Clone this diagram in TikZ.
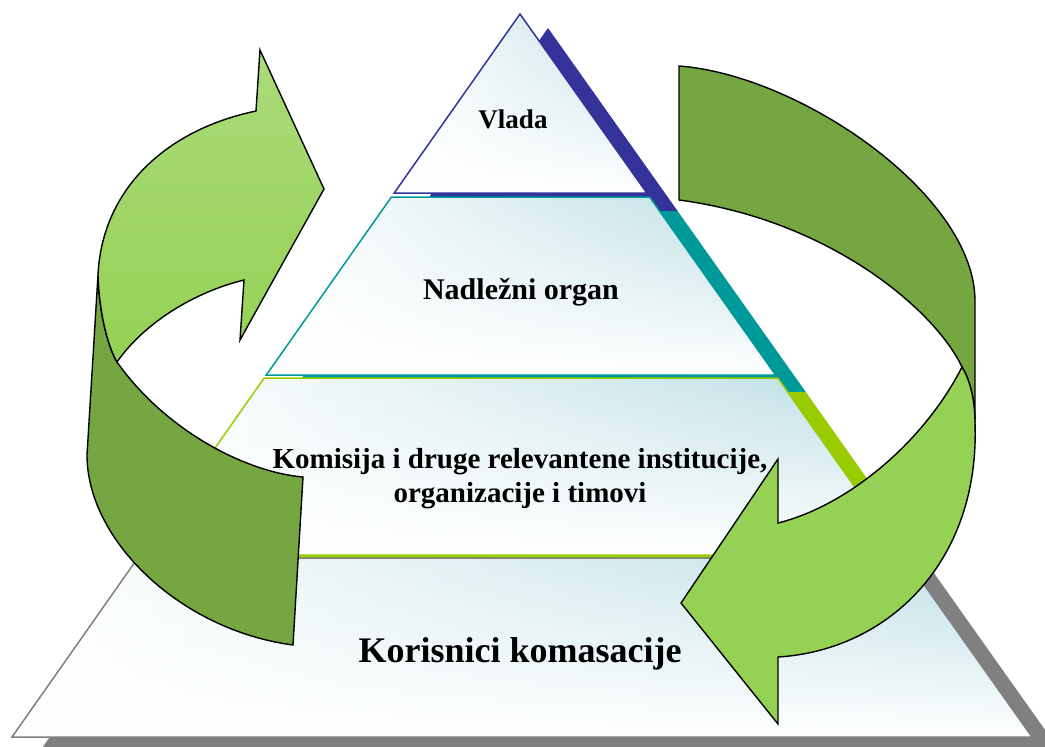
\documentclass[tikz,border=0pt]{standalone}
\usepackage{fontspec}
\setmainfont{Liberation Serif}
\usetikzlibrary{fadings}

\definecolor{pyrblue}{RGB}{186,222,228}
\definecolor{edgeone}{RGB}{51,51,153}
\definecolor{edgetwo}{RGB}{0,153,153}
\definecolor{edgethree}{RGB}{153,204,0}
\definecolor{edgefour}{RGB}{128,128,128}
\definecolor{gdark}{RGB}{117,166,66}
\definecolor{glight}{RGB}{148,209,84}
\definecolor{glighttop}{RGB}{170,219,122}

% white wash that grows towards the bottom of each level
\tikzfading[name=whitebottom, top color=transparent!100, middle color=transparent!75, bottom color=transparent!0]

\tikzset{
  levelshade/.style={left color=white, right color=pyrblue},
  levelwash/.style={white, path fading=whitebottom},
  leveledge/.style={draw=#1, line width=1.5pt},
  levelshadow/.style={fill=#1, shift={(28,14)}},
  arrowline/.style={draw=black, line width=1.4pt, line join=miter},
  leveltext/.style={font=\bfseries\fontsize{#1}{#1}\selectfont, inner sep=0pt, anchor=base},
}

\begin{document}
\begin{tikzpicture}[x=1pt,y=-1pt]
\useasboundingbox (0,0) rectangle (1045,747);
\clip (0,0) rectangle (1045,747);

% ---- level 1: Vlada
\fill[levelshadow=edgeone] (520,14) -- (649.6,197) -- (391.4,197) -- cycle;
\shade[levelshade] (520,14) -- (646.8,193) -- (394.2,193) -- cycle;
\fill[levelwash] (520,14) -- (646.8,193) -- (394.2,193) -- cycle;
\draw[leveledge=edgeone] (520,14) -- (646.8,193) -- (394.2,193) -- cycle;

% ---- level 2: Nadlezni organ
\fill[levelshadow=edgetwo] (391.4,197) -- (649.6,197) -- (777.8,378) -- (264.2,378) -- cycle;
\shade[levelshade] (391.4,197) -- (649.6,197) -- (775.6,375) -- (266.3,375) -- cycle;
\fill[levelwash] (391.4,197) -- (649.6,197) -- (775.6,375) -- (266.3,375) -- cycle;
\draw[leveledge=edgetwo] (391.4,197) -- (649.6,197) -- (775.6,375) -- (266.3,375) -- cycle;

% ---- level 3: Komisija
\fill[levelshadow=edgethree] (264.2,378) -- (777.8,378) -- (905.2,558) -- (137.8,558) -- cycle;
\shade[levelshade] (264.2,378) -- (777.8,378) -- (903.1,555) -- (139.9,555) -- cycle;
\fill[levelwash] (264.2,378) -- (777.8,378) -- (903.1,555) -- (139.9,555) -- cycle;
\draw[leveledge=edgethree] (264.2,378) -- (777.8,378) -- (903.1,555) -- (139.9,555) -- cycle;

% ---- level 4: Korisnici
\fill[levelshadow=edgefour] (137.8,558) -- (905.2,558) -- (1032,737) -- (12,737) -- cycle;
\shade[levelshade] (137.8,558) -- (905.2,558) -- (1032,737) -- (12,737) -- cycle;
\fill[levelwash] (137.8,558) -- (905.2,558) -- (1032,737) -- (12,737) -- cycle;
\draw[leveledge=edgefour] (137.8,558) -- (905.2,558) -- (1032,737) -- (12,737) -- cycle;

% ---- labels
\node[leveltext=27] (vlada) at (513,128) {Vlada};
\node[leveltext=30] (organ) at (521,299) {Nadležni organ};
\node[font=\bfseries\fontsize{29}{34}\selectfont, inner sep=0pt, align=center] (komisija) at (520,479)
  {Komisija i druge relevantene institucije,\\organizacije i timovi};
\node[leveltext=36] (korisnici) at (520,662) {Korisnici komasacije};

% ---- left circular arrow: back band
\draw[arrowline, fill=gdark] (98,275) -- (87,455)
  .. controls (87,540) and (180,630) .. (293,645) -- (303,477)
  .. controls (245,472) and (165,430) .. (117,362)
  .. controls (107,345) and (99,310) .. (98,275) -- cycle;
% ---- left circular arrow: front band with head
\draw[arrowline, top color=glighttop, bottom color=glight] (98,275)
  .. controls (102,190) and (165,130) .. (256,111) -- (260,50) -- (324,189) -- (240,340) -- (244,280)
  .. controls (195,292) and (145,322) .. (117,362)
  .. controls (107,345) and (99,310) .. (98,275) -- cycle;

% ---- right circular arrow: back band
\draw[arrowline, fill=gdark] (679,66)
  .. controls (800,75) and (975,195) .. (975,301) -- (975,423)
  .. controls (975,400) and (970,380) .. (962,367)
  .. controls (935,310) and (830,220) .. (679,200) -- cycle;
% ---- right circular arrow: front band with head
\draw[arrowline, fill=glight] (962,367)
  .. controls (970,380) and (975,400) .. (975,423)
  .. controls (980,560) and (890,650) .. (778,657) -- (778,724) -- (681,603) -- (778,459) -- (778,523)
  .. controls (850,505) and (925,440) .. (962,367) -- cycle;
\end{tikzpicture}
\end{document}
